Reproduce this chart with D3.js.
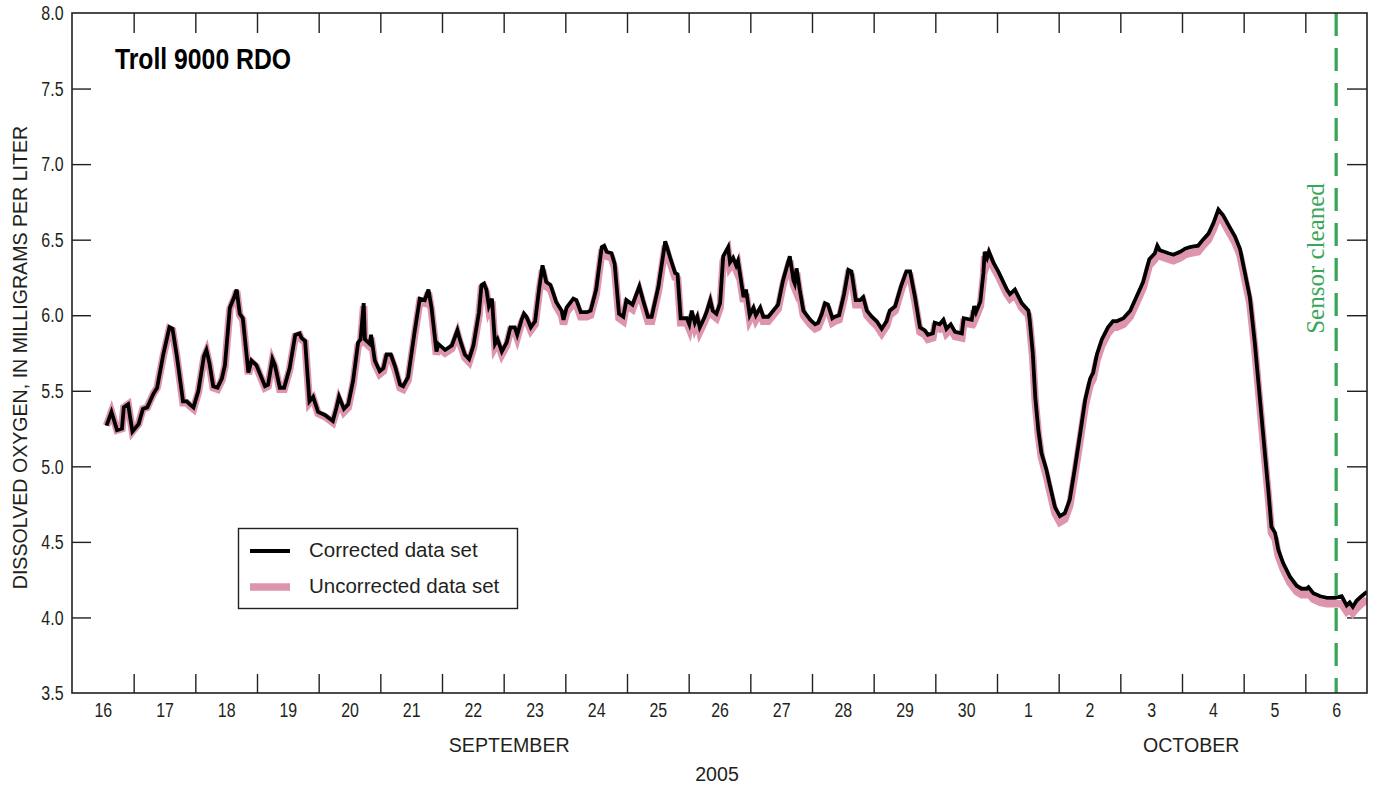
<!DOCTYPE html>
<html>
<head>
<meta charset="utf-8">
<script src="https://cdn.jsdelivr.net/npm/d3@7"></script>
<style>
  body { margin: 0; background: #fff; }
  svg { display: block; }
</style>
</head>
<body>
<svg id="chart" width="1374" height="786"></svg>
<script>
// Readings: time in days after 2005-09-16 00:00, dissolved oxygen in mg/L
const dayOffsets = [
  0.56,0.64,0.73,0.81,0.84,0.91,0.98,1.08,1.15,1.22,
  1.32,1.38,1.48,1.58,1.63,1.70,1.80,1.86,1.91,1.97,
  2.05,2.14,2.18,2.23,2.29,2.36,2.43,2.48,2.56,2.64,
  2.67,2.72,2.77,2.86,2.91,2.99,3.13,3.18,3.25,3.29,
  3.37,3.44,3.53,3.62,3.69,3.72,3.78,3.85,3.91,3.99,
  4.10,4.23,4.29,4.33,4.41,4.48,4.56,4.64,4.68,4.73,
  4.75,4.83,4.85,4.91,4.99,5.05,5.10,5.17,5.24,5.32,
  5.37,5.45,5.56,5.64,5.72,5.78,5.83,5.91,5.94,6.05,
  6.16,6.25,6.29,6.37,6.44,6.51,6.60,6.64,6.68,6.72,
  6.76,6.81,6.86,6.90,6.97,7.05,7.11,7.18,7.22,7.29,
  7.33,7.37,7.44,7.51,7.58,7.63,7.69,7.76,7.85,7.94,
  7.97,8.02,8.13,8.18,8.25,8.35,8.41,8.50,8.59,8.63,
  8.67,8.75,8.80,8.87,8.94,8.99,9.09,9.20,9.26,9.34,
  9.40,9.51,9.62,9.70,9.78,9.82,9.87,9.97,10.01,10.05,
  10.10,10.14,10.18,10.25,10.29,10.35,10.39,10.45,10.51,10.56,
  10.64,10.67,10.72,10.77,10.80,10.89,10.93,10.99,11.05,11.09,
  11.16,11.21,11.29,11.37,11.45,11.53,11.64,11.70,11.72,11.75,
  11.80,11.86,11.97,12.05,12.10,12.16,12.21,12.26,12.33,12.37,
  12.44,12.52,12.59,12.64,12.71,12.78,12.83,12.89,12.97,13.05,
  13.13,13.21,13.26,13.35,13.45,13.53,13.59,13.67,13.75,13.83,
  13.88,13.96,13.99,14.07,14.13,14.18,14.25,14.32,14.43,14.46,
  14.59,14.63,14.66,14.73,14.78,14.80,14.84,14.87,14.94,15.02,
  15.16,15.21,15.29,15.40,15.51,15.53,15.58,15.62,15.67,15.72,
  15.80,15.86,15.94,16.02,16.10,16.18,16.26,16.35,16.43,16.51,
  16.56,16.62,16.70,16.80,16.88,16.94,17.05,17.16,17.26,17.37,
  17.47,17.56,17.60,17.64,17.78,17.86,17.97,18.05,18.13,18.26,
  18.34,18.43,18.51,18.59,18.67,18.75,18.86,18.94,19.02,19.10,
  19.18,19.26,19.35,19.40,19.45,19.51,19.56,19.64,19.75,19.86,
  19.94,20.02,20.05,20.13,20.24,20.35,20.48,20.59,20.67,20.72,
  20.77,20.83,20.91,21.00
];

const correctedDO = [
  5.27,5.36,5.24,5.25,5.39,5.41,5.23,5.28,5.38,5.39,
  5.48,5.52,5.74,5.92,5.91,5.73,5.43,5.43,5.41,5.39,
  5.50,5.73,5.77,5.68,5.53,5.52,5.58,5.67,6.05,6.13,
  6.17,6.01,5.98,5.62,5.70,5.67,5.53,5.54,5.71,5.67,
  5.52,5.52,5.65,5.87,5.88,5.85,5.83,5.43,5.46,5.36,
  5.34,5.30,5.39,5.46,5.38,5.41,5.57,5.82,5.84,6.08,
  5.84,5.81,5.87,5.70,5.63,5.65,5.74,5.74,5.66,5.54,
  5.53,5.59,5.90,6.11,6.10,6.17,6.05,5.76,5.81,5.77,
  5.80,5.90,5.84,5.74,5.71,5.80,6.02,6.20,6.21,6.17,
  6.06,6.11,5.81,5.84,5.76,5.82,5.92,5.92,5.87,5.97,
  6.01,5.99,5.92,5.96,6.19,6.33,6.22,6.20,6.09,6.03,
  5.97,6.05,6.11,6.10,6.02,6.02,6.03,6.17,6.45,6.46,
  6.42,6.41,6.34,6.01,5.99,6.10,6.07,6.19,6.10,5.99,
  5.99,6.19,6.49,6.38,6.28,6.27,5.98,5.98,5.94,6.03,
  5.95,5.99,5.92,5.98,6.02,6.10,6.03,6.01,6.08,6.39,
  6.45,6.35,6.38,6.33,6.36,6.12,6.17,6.00,6.05,6.00,
  6.05,5.99,5.99,6.03,6.07,6.23,6.39,6.23,6.21,6.31,
  6.17,6.03,5.97,5.94,5.95,6.01,6.08,6.07,5.98,5.99,
  6.00,6.14,6.30,6.29,6.10,6.10,6.12,6.03,5.99,5.96,
  5.91,5.96,6.03,6.06,6.20,6.29,6.29,6.12,5.92,5.90,
  5.87,5.88,5.95,5.94,5.97,5.91,5.94,5.89,5.88,5.98,
  5.97,6.06,6.02,6.09,6.28,6.42,6.38,6.42,6.35,6.29,
  6.17,6.14,6.17,6.08,6.03,5.97,5.75,5.46,5.24,5.09,
  4.98,4.87,4.73,4.67,4.69,4.78,4.98,5.22,5.44,5.58,
  5.62,5.74,5.84,5.92,5.96,5.96,5.98,6.03,6.12,6.22,
  6.37,6.41,6.46,6.43,6.41,6.40,6.42,6.44,6.45,6.46,
  6.50,6.54,6.61,6.70,6.66,6.60,6.52,6.44,6.28,6.12,
  5.82,5.46,5.06,4.84,4.60,4.56,4.45,4.36,4.27,4.21,
  4.19,4.19,4.20,4.16,4.14,4.13,4.13,4.14,4.08,4.10,
  4.07,4.11,4.14,4.17
];

const uncorrectedDO = [
  5.27,5.36,5.24,5.25,5.39,5.41,5.23,5.28,5.38,5.39,
  5.48,5.52,5.73,5.91,5.90,5.72,5.42,5.42,5.40,5.38,
  5.49,5.72,5.76,5.67,5.52,5.51,5.57,5.66,6.04,6.12,
  6.16,6.00,5.97,5.61,5.69,5.66,5.52,5.53,5.70,5.66,
  5.51,5.51,5.64,5.86,5.87,5.84,5.82,5.42,5.45,5.35,
  5.33,5.29,5.37,5.44,5.36,5.39,5.55,5.80,5.82,6.06,
  5.82,5.79,5.85,5.68,5.61,5.63,5.72,5.72,5.64,5.52,
  5.51,5.57,5.88,6.09,6.08,6.15,6.03,5.74,5.79,5.75,
  5.78,5.88,5.82,5.72,5.69,5.78,6.00,6.18,6.19,6.15,
  6.04,6.09,5.79,5.82,5.74,5.80,5.90,5.90,5.85,5.95,
  5.99,5.97,5.90,5.94,6.17,6.30,6.19,6.17,6.06,6.00,
  5.94,6.02,6.08,6.07,5.99,5.99,6.00,6.14,6.42,6.43,
  6.39,6.38,6.31,5.98,5.96,6.07,6.04,6.16,6.07,5.96,
  5.96,6.16,6.46,6.35,6.25,6.24,5.95,5.95,5.91,6.00,
  5.92,5.96,5.89,5.95,5.99,6.07,6.00,5.98,6.05,6.36,
  6.42,6.32,6.35,6.30,6.33,6.09,6.14,5.97,6.02,5.97,
  6.02,5.96,5.96,6.00,6.04,6.20,6.36,6.20,6.18,6.28,
  6.14,6.00,5.94,5.91,5.92,5.98,6.05,6.04,5.95,5.96,
  5.97,6.11,6.27,6.26,6.07,6.07,6.09,6.00,5.96,5.93,
  5.88,5.93,6.00,6.03,6.17,6.26,6.26,6.09,5.89,5.87,
  5.84,5.85,5.92,5.91,5.94,5.88,5.91,5.86,5.85,5.95,
  5.94,6.03,5.99,6.06,6.25,6.39,6.35,6.39,6.32,6.26,
  6.14,6.11,6.14,6.05,6.00,5.94,5.72,5.43,5.21,5.06,
  4.94,4.83,4.69,4.63,4.65,4.74,4.94,5.18,5.40,5.54,
  5.58,5.70,5.80,5.88,5.92,5.92,5.94,5.99,6.08,6.18,
  6.33,6.37,6.42,6.39,6.37,6.36,6.38,6.40,6.41,6.42,
  6.46,6.50,6.57,6.66,6.62,6.56,6.48,6.40,6.24,6.08,
  5.78,5.42,5.02,4.80,4.56,4.52,4.41,4.32,4.23,4.17,
  4.15,4.15,4.16,4.12,4.10,4.09,4.09,4.09,4.04,4.06,
  4.03,4.06,4.09,4.12
];

const dayLabels = ["16","17","18","19","20","21","22","23","24","25","26","27","28","29","30",
                   "1","2","3","4","5","6"];
const yTickValues = [3.5, 4.0, 4.5, 5.0, 5.5, 6.0, 6.5, 7.0, 7.5, 8.0];
const monthLabels = ["SEPTEMBER", "OCTOBER"];
const monthLabelDays = [7.09, 18.15];
const yearLabel = "2005";
const sensorCleanedDay = 20.5;
const legendLabels = ["Corrected data set", "Uncorrected data set"];
const titleText = "Troll 9000 RDO";
const yAxisTitle = "DISSOLVED OXYGEN, IN MILLIGRAMS PER LITER";
const annotationText = "Sensor cleaned";

// Layout and styling
const plot = { left: 72, right: 1367, top: 13, bottom: 693 };
const INK = "#231f20";
const PINK = "#dd94ac";
const GREEN = "#3aa65a";
const SANS = "'Liberation Sans', Arial, sans-serif";
const CONDENSE = 0.76;   // horizontal squeeze for condensed tick numerals

const start = Date.UTC(2005, 8, 16);
const DAY = 864e5;
const toDate = d => new Date(start + d * DAY);

const x = d3.scaleUtc()
  .domain([toDate(0), toDate(21)])
  .range([plot.left, plot.right]);
const y = d3.scaleLinear()
  .domain([3.5, 8.0])
  .range([plot.bottom, plot.top]);

const svg = d3.select("#chart");

const rows = dayOffsets.map((d, i) => ({ t: toDate(d), c: correctedDO[i], u: uncorrectedDO[i] }));

// Day boundaries (tick marks) and day centres (labels)
const boundaries = d3.range(1, dayLabels.length).map(toDate);
const middays = dayLabels.map((_, i) => toDate(i + 0.5));

svg.append("defs").append("clipPath").attr("id", "plotClip")
  .append("rect")
  .attr("x", plot.left).attr("y", plot.top)
  .attr("width", plot.right - plot.left).attr("height", plot.bottom - plot.top);

// Tick marks on all four sides, pointing inward
function styleTicks(g) {
  g.select(".domain").remove();
  g.selectAll(".tick line").attr("stroke", INK).attr("stroke-width", 1.4);
}

svg.append("g")
  .attr("transform", `translate(0,${plot.bottom})`)
  .call(d3.axisBottom(x).tickValues(boundaries).tickSize(-19).tickSizeOuter(0).tickFormat(""))
  .call(styleTicks);

svg.append("g")
  .attr("transform", `translate(0,${plot.top})`)
  .call(d3.axisTop(x).tickValues(boundaries).tickSize(-20).tickSizeOuter(0).tickFormat(""))
  .call(styleTicks);

const yLeft = svg.append("g")
  .attr("transform", `translate(${plot.left},0)`)
  .call(d3.axisLeft(y).tickValues(yTickValues).tickSize(-19).tickSizeOuter(0)
    .tickFormat(d3.format(".1f")))
  .call(styleTicks);
yLeft.selectAll(".tick text")
  .attr("x", -8.5 / CONDENSE)
  .attr("transform", `scale(${CONDENSE},1)`)
  .attr("font-family", SANS).attr("font-size", 21).attr("fill", INK);
yLeft.selectAll(".tick line").filter(d => d === 3.5 || d === 8.0).remove();

svg.append("g")
  .attr("transform", `translate(${plot.right},0)`)
  .call(d3.axisRight(y).tickValues(yTickValues.filter(v => v > 3.5 && v < 8.0))
    .tickSize(-20).tickSizeOuter(0).tickFormat(""))
  .call(styleTicks);

// Day-of-month labels centred in each day
const xLabels = svg.append("g")
  .attr("transform", `translate(0,${plot.bottom})`)
  .call(d3.axisBottom(x).tickValues(middays).tickSize(0).tickPadding(9)
    .tickFormat((d, i) => dayLabels[i]));
xLabels.select(".domain").remove();
xLabels.selectAll(".tick text")
  .attr("transform", `scale(${CONDENSE},1)`)
  .attr("font-family", SANS).attr("font-size", 21).attr("fill", INK);

// Data lines
const lineU = d3.line().x(d => x(d.t)).y(d => y(d.u));
const lineC = d3.line().x(d => x(d.t)).y(d => y(d.c));
const lines = svg.append("g").attr("clip-path", "url(#plotClip)");
lines.append("path").datum(rows)
  .attr("d", lineU).attr("fill", "none")
  .attr("stroke", PINK).attr("stroke-width", 7.5);
lines.append("path").datum(rows)
  .attr("d", lineC).attr("fill", "none")
  .attr("stroke", "#000").attr("stroke-width", 3.8);

// Sensor cleaning marker
const xc = x(toDate(sensorCleanedDay));
svg.append("line")
  .attr("x1", xc).attr("x2", xc).attr("y1", plot.top).attr("y2", plot.bottom)
  .attr("stroke", GREEN).attr("stroke-width", 3.3).attr("stroke-dasharray", "23,12");
svg.append("text")
  .attr("transform", `translate(${xc - 12},258.5) rotate(-90)`)
  .attr("text-anchor", "middle")
  .attr("font-family", "'Liberation Serif', 'Times New Roman', serif")
  .attr("font-size", 25).attr("fill", GREEN)
  .text(annotationText);

// Frame
svg.append("rect")
  .attr("x", plot.left).attr("y", plot.top)
  .attr("width", plot.right - plot.left).attr("height", plot.bottom - plot.top)
  .attr("fill", "none").attr("stroke", INK).attr("stroke-width", 1.6);

// Title
svg.append("text")
  .attr("x", 115).attr("y", 69)
  .attr("font-family", SANS).attr("font-weight", "bold").attr("font-size", 29)
  .attr("textLength", 176).attr("lengthAdjust", "spacingAndGlyphs")
  .attr("fill", "#000").text(titleText);

// Axis titles
svg.append("text")
  .attr("transform", `translate(27,357.5) rotate(-90)`)
  .attr("text-anchor", "middle")
  .attr("font-family", SANS).attr("font-size", 19.6).attr("fill", INK)
  .text(yAxisTitle);

svg.selectAll(".month").data(monthLabels).enter().append("text")
  .attr("class", "month")
  .attr("x", (d, i) => x(toDate(monthLabelDays[i])))
  .attr("y", 751.5)
  .attr("text-anchor", "middle")
  .attr("font-family", SANS).attr("font-size", 19.6).attr("fill", INK)
  .text(d => d);

svg.append("text")
  .attr("x", 717).attr("y", 781)
  .attr("text-anchor", "middle")
  .attr("font-family", SANS).attr("font-size", 19.6).attr("fill", INK)
  .text(yearLabel);

// Legend
const legend = svg.append("g");
legend.append("rect")
  .attr("x", 238.5).attr("y", 528.5).attr("width", 279).attr("height", 80)
  .attr("fill", "#fff").attr("stroke", INK).attr("stroke-width", 1.4);
const legendItems = [
  { label: legendLabels[0], color: "#000", width: 3.8, y: 551 },
  { label: legendLabels[1], color: PINK, width: 7.3, y: 587 }
];
legendItems.forEach(item => {
  legend.append("line")
    .attr("x1", 250).attr("x2", 290).attr("y1", item.y).attr("y2", item.y)
    .attr("stroke", item.color).attr("stroke-width", item.width);
  legend.append("text")
    .attr("x", 309).attr("y", item.y + 6)
    .attr("font-family", SANS).attr("font-size", 20.5).attr("fill", INK)
    .text(item.label);
});
</script>
</body>
</html>
